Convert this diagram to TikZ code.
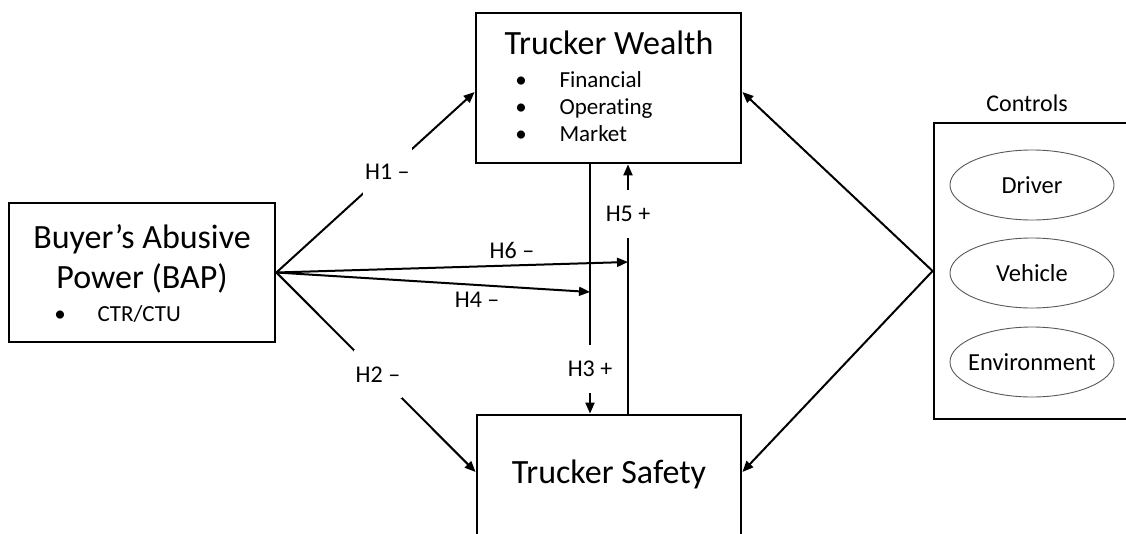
\documentclass[tikz,border=0pt]{standalone}
\usepackage{fontspec}
\setmainfont{Carlito}[Ligatures={TeX,NoCommon}]
\usepackage{tikz}
\usetikzlibrary{positioning,arrows.meta,calc,shapes.geometric}

\begin{document}
\begin{tikzpicture}[x=1pt, y=-1pt, >={Triangle[length=11pt,width=9pt]},
  bx/.style={draw, line width=2.8pt, inner sep=0pt},
  ov/.style={font=\fontsize{24.5}{28}\selectfont, inner sep=1pt},
  ovl/.style={draw=black!65, line width=0.9pt},
  a/.style={->, line width=2pt},
  lab/.style={font=\fontsize{24}{28}\selectfont, inner sep=2pt},
  gap/.style={lab, fill=white, minimum height=48pt},
  big/.style={font=\fontsize{34}{40}\selectfont, align=center},
  it/.style={font=\fontsize{23}{27}\selectfont, anchor=west, text height=16pt, text depth=5pt}]
\useasboundingbox (0,0) rectangle (1126,533);
\node[bx, minimum width=265pt, minimum height=150pt] (wealth) at (608.5,88) {};
\node[bx, minimum width=266pt, minimum height=139pt] (bap) at (142,272.5) {};
\node[bx, minimum width=264pt, minimum height=130pt] (safety) at (609,480) {};
\node[bx, minimum width=206pt, minimum height=296pt] (ctrl) at (1037,271) {};
\node[big] (wtitle) at (609,43) {Trucker Wealth};
\foreach \n/\y/\t in {fin/82/Financial, op/109/Operating, mkt/136/Market} {
  \node[it] (\n) at (556,\y) {\t};
  \node[it, anchor=center] (\n b) at (521,\y) {\textbullet};
}
\node[big] (baptitle) at (142,259) {Buyer’s Abusive\\Power (BAP)};
\node[it] (ctr) at (94,316) {CTR/CTU};
\node[it, anchor=center] (ctrb) at (60,316) {\textbullet};
\node[big] (stitle) at (609,474) {Trucker Safety};
\node[lab] (ctitle) at (1027,103) {Controls};
\foreach \n/\y/\t in {drv/185/Driver, veh/273/Vehicle, env/362/Environment} {
  \node[ov] (\n) at (1032,\y) {\t};
  \draw[ovl] (\n.center) ellipse [x radius=82, y radius=35];
}
\coordinate (h3) at (590,0);
\coordinate (h5) at (628,0);
\coordinate (t6) at (628,262);
\coordinate (t4) at (590,292);
\draw[a] (bap.east) -- node[gap, pos=0.56]{H1 \textendash} ([yshift=-4pt]wealth.west);
\draw[a] (bap.east) -- node[gap, pos=0.51]{H2 \textendash} ([yshift=8pt]safety.west);
\draw[a] (wealth.south -| h3) -- node[gap, pos=0.82]{H3 +} (safety.north -| h3);
\draw[a] (safety.north -| h5) -- node[gap, pos=0.8]{H5 +} (wealth.south -| h5);
\draw[a] (bap.east) -- node[lab, pos=0.67, above=4pt]{H6 \textendash} (t6);
\draw[a] (bap.east) -- node[lab, pos=0.64, below=4pt]{H4 \textendash} (t4);
\draw[a] (ctrl.west) -- ([yshift=-4pt]wealth.east);
\draw[a] (ctrl.west) -- ([yshift=8pt]safety.east);
\end{tikzpicture}
\end{document}
